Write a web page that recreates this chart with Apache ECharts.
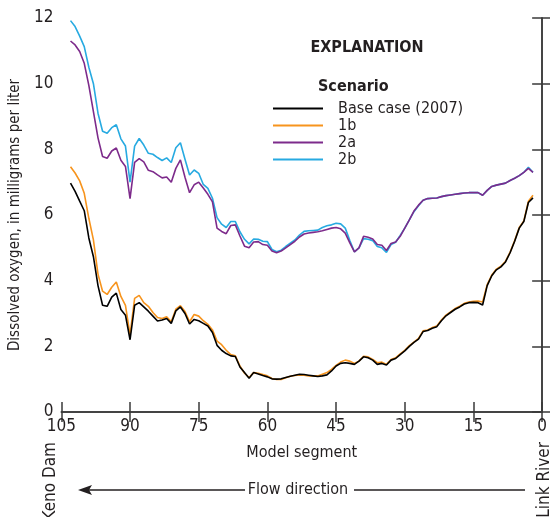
<!DOCTYPE html>
<html><head><meta charset="utf-8">
<script src="https://cdn.jsdelivr.net/npm/echarts@6/dist/echarts.min.js"></script>
<style>html,body{margin:0;padding:0;background:#fff}#c{width:550px;height:517px}</style>
</head><body><div id="c"></div>
<script>
const segments = [103,102,101,100,99,98,97,96,95,94,93,92,91,90,89,88,87,86,85,84,83,82,81,80,79,78,77,76,75,74,73,72,71,70,69,68,67,66,65,64,63,62,61,60,59,58,57,56,55,54,53,52,51,50,49,48,47,46,45,44,43,42,41,40,39,38,37,36,35,34,33,32,31,30,29,28,27,26,25,24,23,22,21,20,19,18,17,16,15,14,13,12,11,10,9,8,7,6,5,4,3,2];
const baseCase = [6.97,6.72,6.42,6.13,5.3,4.73,3.85,3.25,3.22,3.5,3.62,3.12,2.95,2.2,3.25,3.33,3.2,3.07,2.92,2.77,2.8,2.85,2.7,3.08,3.2,3.0,2.68,2.82,2.78,2.7,2.62,2.42,2.03,1.88,1.78,1.71,1.69,1.37,1.2,1.03,1.2,1.16,1.11,1.07,1.01,1.0,1.01,1.05,1.09,1.12,1.15,1.14,1.12,1.1,1.08,1.1,1.13,1.25,1.4,1.48,1.5,1.48,1.45,1.55,1.68,1.65,1.58,1.45,1.48,1.43,1.58,1.63,1.75,1.86,2.0,2.12,2.22,2.45,2.48,2.55,2.6,2.78,2.93,3.03,3.13,3.2,3.29,3.33,3.34,3.33,3.26,3.85,4.15,4.33,4.42,4.57,4.85,5.2,5.6,5.8,6.38,6.52];
const s1b = [7.47,7.28,7.04,6.66,5.9,5.24,4.2,3.68,3.58,3.8,3.96,3.52,3.25,2.35,3.46,3.55,3.33,3.22,3.03,2.88,2.85,2.9,2.75,3.13,3.24,3.06,2.75,2.97,2.92,2.78,2.67,2.5,2.16,2.05,1.88,1.75,1.71,1.4,1.18,1.05,1.2,1.18,1.14,1.1,1.02,0.99,0.99,1.04,1.09,1.11,1.13,1.12,1.1,1.1,1.1,1.15,1.2,1.3,1.42,1.52,1.58,1.55,1.48,1.55,1.7,1.68,1.6,1.5,1.52,1.45,1.6,1.65,1.77,1.88,2.02,2.13,2.24,2.47,2.5,2.57,2.62,2.8,2.95,3.05,3.15,3.22,3.31,3.35,3.37,3.38,3.35,3.88,4.17,4.35,4.44,4.59,4.87,5.22,5.62,5.82,6.42,6.6];
const s2a = [11.3,11.18,10.98,10.62,9.95,9.15,8.35,7.78,7.73,7.95,8.04,7.67,7.48,6.5,7.6,7.72,7.62,7.36,7.32,7.22,7.13,7.16,7.0,7.42,7.68,7.15,6.68,6.92,7.0,6.82,6.63,6.4,5.6,5.5,5.43,5.68,5.7,5.36,5.05,5.0,5.18,5.19,5.1,5.08,4.9,4.85,4.9,5.0,5.1,5.2,5.33,5.42,5.45,5.47,5.49,5.52,5.56,5.6,5.62,5.58,5.45,5.15,4.88,5.0,5.35,5.32,5.27,5.1,5.08,4.92,5.13,5.18,5.35,5.6,5.85,6.12,6.3,6.45,6.5,6.51,6.52,6.56,6.59,6.61,6.63,6.65,6.67,6.68,6.68,6.68,6.6,6.75,6.87,6.91,6.94,6.97,7.05,7.12,7.2,7.3,7.42,7.3];
const s2b = [11.92,11.74,11.45,11.13,10.5,10.0,9.1,8.55,8.49,8.66,8.75,8.32,8.1,7.0,8.1,8.33,8.13,7.88,7.85,7.75,7.66,7.74,7.6,8.05,8.2,7.7,7.22,7.37,7.27,6.93,6.81,6.51,5.92,5.72,5.62,5.8,5.8,5.49,5.26,5.12,5.27,5.26,5.2,5.19,4.95,4.88,4.93,5.04,5.14,5.24,5.39,5.5,5.52,5.53,5.54,5.62,5.67,5.7,5.75,5.73,5.6,5.22,4.88,5.0,5.28,5.26,5.22,5.04,5.0,4.86,5.1,5.17,5.38,5.6,5.85,6.1,6.28,6.45,6.5,6.51,6.52,6.56,6.59,6.61,6.63,6.65,6.67,6.68,6.68,6.68,6.6,6.75,6.87,6.91,6.94,6.97,7.05,7.12,7.2,7.3,7.45,7.3];
const seriesNames = ['Base case (2007)','1b','2a','2b'];
const seriesColors = ['#000000','#f7941d','#7d2b8b','#27aae1'];
const xTicks = [105,90,75,60,45,30,15,0];

const FONT = "'Liberation Sans Narrow','DejaVu Sans Condensed',sans-serif";
const chart = echarts.init(document.getElementById('c'), null, {renderer:'canvas'});
const allData = [baseCase, s1b, s2a, s2b];
const axisLine = {lineStyle:{color:'#3a3a3a', width:1.5}};
const tick = {inside:true, length:10, lineStyle:{color:'#3a3a3a', width:1.5}};
chart.setOption({
  animation:false,
  grid:{left:58, right:7, top:18, bottom:105, show:false},
  xAxis:[
    {type:'value', min:0, max:105, interval:15, inverse:true, position:'bottom',
     axisLine:axisLine, axisTick:tick, splitLine:{show:false},
     axisLabel:{fontFamily:FONT, fontSize:17, color:'#231f20', margin:6,
       formatter:v=>xTicks.includes(v)?String(v):''},
     name:'Model segment', nameLocation:'middle', nameGap:33,
     nameTextStyle:{fontFamily:FONT, fontSize:16, color:'#231f20'}},
    {type:'value', min:0, max:105, interval:15, inverse:true, position:'top',
     axisLine:axisLine, axisTick:tick, axisLabel:{show:false}, splitLine:{show:false}}
  ],
  yAxis:[
    {type:'value', min:0, max:12, interval:2, position:'left',
     axisLine:{show:true, ...axisLine}, axisTick:{show:true, ...tick}, splitLine:{show:false},
     axisLabel:{fontFamily:FONT, fontSize:17, color:'#231f20', margin:8},
     name:'Dissolved oxygen, in milligrams per liter', nameLocation:'middle', nameGap:36,
     nameTextStyle:{fontFamily:FONT, fontSize:15, color:'#231f20'}},
    {type:'value', min:0, max:12, interval:2, position:'right',
     axisLine:{show:true, ...axisLine}, axisTick:{show:true, ...tick}, axisLabel:{show:false}, splitLine:{show:false}}
  ],
  legend:{orient:'vertical', left:268, top:95, itemWidth:50, itemHeight:2, itemGap:0, icon:'rect',
    data:seriesNames,
    textStyle:{fontFamily:FONT, fontSize:16, color:'#231f20', lineHeight:17, padding:[0,0,0,10]}},
  series: seriesNames.map((n,i)=>({
    name:n, type:'line', symbol:'none', xAxisIndex:0, yAxisIndex:0,
    data: segments.map((s,j)=>[s, allData[i][j]]),
    lineStyle:{color:seriesColors[i], width:1.6}, itemStyle:{color:seriesColors[i]},
    z: 10 - i
  })),
  graphic:[
    {type:'text', x:367, y:48, style:{text:'EXPLANATION', font:"bold 16px "+FONT, fill:'#231f20', textAlign:'center', textVerticalAlign:'middle'}},
    {type:'text', x:318, y:87, style:{text:'Scenario', font:"bold 16px "+FONT, fill:'#231f20', textAlign:'left', textVerticalAlign:'middle'}},
    {type:'text', x:298, y:490, style:{text:'Flow direction', font:"16px "+FONT, fill:'#231f20', textAlign:'center', textVerticalAlign:'middle'}},
    {type:'line', shape:{x1:82, y1:490, x2:245, y2:490}, style:{stroke:'#231f20', lineWidth:1.5}},
    {type:'line', shape:{x1:354, y1:490, x2:525, y2:490}, style:{stroke:'#231f20', lineWidth:1.5}},
    {type:'polygon', shape:{points:[[78,490],[92,485],[89,490],[92,495]]}, style:{fill:'#231f20'}},
    {type:'text', x:51, y:442, rotation:Math.PI/2, style:{text:'Keno Dam', font:"17px "+FONT, fill:'#231f20', textAlign:'right', textVerticalAlign:'middle'}},
    {type:'text', x:545, y:442, rotation:Math.PI/2, style:{text:'Link River', font:"17px "+FONT, fill:'#231f20', textAlign:'right', textVerticalAlign:'middle'}}
  ]
});
</script></body></html>
